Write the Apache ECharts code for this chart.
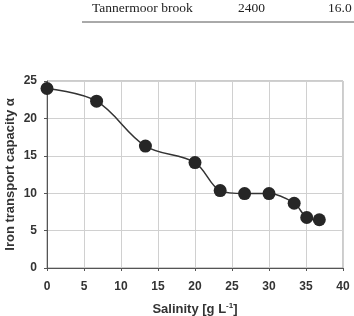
<!DOCTYPE html>
<html><head><meta charset="utf-8">
<script src="https://cdn.jsdelivr.net/npm/echarts@6/dist/echarts.min.js"></script>
<style>html,body{margin:0;padding:0;background:#fff}#c{width:354px;height:316px}</style>
</head><body><div id="c"></div>
<script>
var salinity = [0, 6.7, 13.3, 20.0, 23.4, 26.7, 30.0, 33.4, 35.1, 36.8];
var capacity = [24.0, 22.3, 16.3, 14.1, 10.35, 9.95, 9.95, 8.66, 6.75, 6.45];
var xTicks = [0, 5, 10, 15, 20, 25, 30, 35, 40];
var yTicks = [0, 5, 10, 15, 20, 25];
var tableRow = ["Tannermoor brook", "2400", "16.0"];

var pts = salinity.map(function (s, i) { return [s, capacity[i]]; });
var chart = echarts.init(document.getElementById('c'), null, {renderer: 'canvas'});
chart.setOption({
  animation: false,
  grid: {left: 47, right: 11, top: 81, bottom: 48, show: true, borderColor: '#999', borderWidth: 1,
         containLabel: false, outerBoundsMode: 'none'},
  graphic: [
    {type: 'text', left: 92, top: 1, style: {text: tableRow[0], font: '13.5px "Liberation Serif", serif', fill: '#222'}},
    {type: 'text', left: 238, top: 1, style: {text: tableRow[1], font: '13.5px "Liberation Serif", serif', fill: '#222'}},
    {type: 'text', left: 328, top: 1, style: {text: tableRow[2], font: '13.5px "Liberation Serif", serif', fill: '#222'}},
    {type: 'line', shape: {x1: 82, y1: 22, x2: 354, y2: 22}, style: {stroke: '#555', lineWidth: 1}}
  ],
  xAxis: {
    type: 'value', min: xTicks[0], max: xTicks[xTicks.length - 1], interval: 5,
    axisLine: {show: true, lineStyle: {color: '#555'}},
    axisTick: {show: true, length: 3, lineStyle: {color: '#555'}},
    splitLine: {show: true, lineStyle: {color: '#d0d0d0'}},
    axisLabel: {color: '#333', fontWeight: 'bold', fontSize: 12, fontFamily: 'Liberation Sans, Arial', margin: 13},
    name: '{a|Salinity [g L}{s|-1}{a|]}', nameLocation: 'middle', nameGap: 34, nameMoveOverlap: false,
    nameTextStyle: {rich: {
      a: {fontWeight: 'bold', fontSize: 13, color: '#333', fontFamily: 'Liberation Sans, Arial'},
      s: {fontWeight: 'bold', fontSize: 8, color: '#333', fontFamily: 'Liberation Sans, Arial', verticalAlign: 'top', padding: [0, 0, 7, 0]}
    }}
  },
  yAxis: {
    type: 'value', min: yTicks[0], max: yTicks[yTicks.length - 1], interval: 5,
    axisLine: {show: true, lineStyle: {color: '#555'}},
    axisTick: {show: true, length: 3, lineStyle: {color: '#555'}},
    splitLine: {show: true, lineStyle: {color: '#d0d0d0'}},
    axisLabel: {color: '#333', fontWeight: 'bold', fontSize: 12, fontFamily: 'Liberation Sans, Arial', margin: 10},
    name: 'Iron transport capacity \u03b1', nameLocation: 'middle', nameGap: 30, nameMoveOverlap: false,
    nameTextStyle: {fontWeight: 'bold', fontSize: 13, color: '#333', fontFamily: 'Liberation Sans, Arial'}
  },
  series: [{
    type: 'line', data: pts, smooth: 0.35,
    symbol: 'circle', symbolSize: 13,
    itemStyle: {color: '#262626'},
    lineStyle: {color: '#333', width: 1.5}
  }]
});
</script></body></html>
